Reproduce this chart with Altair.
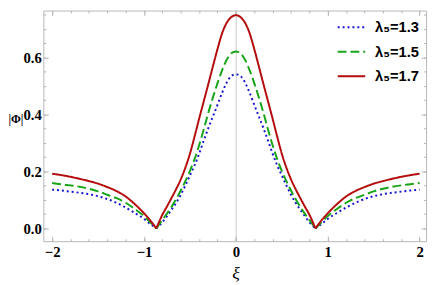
import altair as alt
import pandas as pd

# ---- data (curves are symmetric in xi) ----
xi_half = [0.0, 0.05, 0.1, 0.15, 0.2, 0.25, 0.3, 0.35, 0.4, 0.45, 0.5, 0.55, 0.6,
           0.65, 0.7, 0.75, 0.8, 0.866, 0.95, 1.0, 1.1, 1.2, 1.3, 1.4, 1.5, 1.6,
           1.7, 1.8, 1.9, 2.0]
phi_13 = [0.541, 0.535, 0.512, 0.476, 0.434, 0.393, 0.352, 0.308, 0.262, 0.221,
          0.186, 0.151, 0.118, 0.090, 0.066, 0.043, 0.022, 0.0, 0.020, 0.033,
          0.054, 0.073, 0.090, 0.103, 0.113, 0.120, 0.125, 0.129, 0.133, 0.136]
phi_15 = [0.621, 0.615, 0.592, 0.555, 0.510, 0.460, 0.406, 0.347, 0.292, 0.243,
          0.202, 0.166, 0.133, 0.103, 0.076, 0.052, 0.030, 0.0, 0.027, 0.043,
          0.068, 0.090, 0.106, 0.118, 0.130, 0.139, 0.146, 0.151, 0.155, 0.159]
phi_17 = [0.749, 0.742, 0.722, 0.685, 0.630, 0.569, 0.507, 0.446, 0.385, 0.322,
          0.262, 0.213, 0.172, 0.138, 0.107, 0.077, 0.048, 0.0, 0.035, 0.053,
          0.085, 0.112, 0.131, 0.145, 0.157, 0.166, 0.174, 0.181, 0.187, 0.192]
kink = 0.866
series_labels = ["λ₅=1.3", "λ₅=1.5", "λ₅=1.7"]
series_colors = ["#1414d0", "#18a418", "#b40c0c"]
series_dashes = [[2, 3], [9, 4], [1, 0]]

x_major = [-2, -1, 0, 1, 2]
x_minor = [-2.0, -1.8, -1.6, -1.4, -1.2, -1.0, -0.8, -0.6, -0.4, -0.2, 0.0,
           0.2, 0.4, 0.6, 0.8, 1.0, 1.2, 1.4, 1.6, 1.8, 2.0]
y_major = [0.0, 0.2, 0.4, 0.6]
y_minor = [0.0, 0.05, 0.1, 0.15, 0.2, 0.25, 0.3, 0.35, 0.4, 0.45, 0.5, 0.55,
           0.6, 0.65, 0.7, 0.75]

rows = []
for label, vals in zip(series_labels, [phi_13, phi_15, phi_17]):
    for x, v in zip(xi_half, vals):
        for sx in ([1] if x == 0 else [1, -1]):
            xx = sx * x
            segs = []
            if x <= kink + 1e-9:
                segs.append("mid")
            if x >= kink - 1e-9:
                segs.append("right" if sx > 0 else "left")
            for s in segs:
                rows.append({"xi": xx, "phi": v, "series": label, "seg": s})
df = pd.DataFrame(rows)

xscale = alt.Scale(domain=[-2.096, 2.07], nice=False, zero=False)
yscale = alt.Scale(domain=[-0.045, 0.765], nice=False, zero=False)
TICK = "#b4b4b4"

legend = alt.Legend(
    orient="none", legendX=299, legendY=2, title=None,
    symbolType="stroke", symbolSize=784, symbolStrokeWidth=2,
    labelFont="Liberation Sans", labelFontWeight="bold", labelFontSize=15,
    labelColor="black", labelOffset=9, rowPadding=2, padding=0,
)

lines = alt.Chart(df).mark_line(strokeWidth=2, interpolate="monotone").encode(
    x=alt.X("xi:Q", scale=xscale, axis=alt.Axis(
        orient="bottom", values=x_major, offset=-5, tickSize=5, tickColor=TICK,
        domain=False, grid=False, format="d", labelPadding=4,
        title="ξ", titleFont="Liberation Serif", titleFontStyle="italic",
        titleFontWeight="normal", titleFontSize=18, titleX=196, titleY=43,
        titleAlign="center", titleBaseline="alphabetic")),
    y=alt.Y("phi:Q", scale=yscale, axis=alt.Axis(
        orient="left", values=y_major, offset=-5, tickSize=5, tickColor=TICK,
        domain=False, grid=False, format=".1f", labelPadding=2,
        title="|Φ|", titleFont="Liberation Serif", titleFontWeight="bold",
        titleFontSize=12, titleAngle=0, titleX=-33.5, titleY=110,
        titleAlign="center", titleBaseline="middle")),
    color=alt.Color("series:N", scale=alt.Scale(domain=series_labels, range=series_colors),
                    legend=legend),
    strokeDash=alt.StrokeDash("series:N", scale=alt.Scale(domain=series_labels, range=series_dashes),
                              legend=legend),
    detail="seg:N",
    order="xi:Q",
)


def ghost(xaxis, yaxis):
    return alt.Chart(df).mark_point(opacity=0).encode(
        x=alt.X("xi:Q", scale=xscale, axis=xaxis),
        y=alt.Y("phi:Q", scale=yscale, axis=yaxis),
    )


zero_line = ghost(
    alt.Axis(orient="bottom", values=[0], grid=True, gridColor="#c8c8c8", gridWidth=1,
             ticks=False, labels=False, domain=False, title=None),
    None,
)
minor_bl = ghost(
    alt.Axis(orient="bottom", values=x_minor, offset=-2.5, tickSize=2.5, tickColor=TICK,
             labels=False, domain=False, grid=False, title=None),
    alt.Axis(orient="left", values=y_minor, offset=-2.5, tickSize=2.5, tickColor=TICK,
             labels=False, domain=False, grid=False, title=None),
)
major_tr = ghost(
    alt.Axis(orient="top", values=x_major, offset=-5, tickSize=5, tickColor=TICK,
             labels=False, domain=False, grid=False, title=None),
    alt.Axis(orient="right", values=y_major, offset=-5, tickSize=5, tickColor=TICK,
             labels=False, domain=False, grid=False, title=None),
)
minor_tr = ghost(
    alt.Axis(orient="top", values=x_minor, offset=-2.5, tickSize=2.5, tickColor=TICK,
             labels=False, domain=False, grid=False, title=None),
    alt.Axis(orient="right", values=y_minor, offset=-2.5, tickSize=2.5, tickColor=TICK,
             labels=False, domain=False, grid=False, title=None),
)

chart = alt.layer(zero_line, minor_bl, major_tr, minor_tr, lines).resolve_axis(
    x="independent", y="independent"
).properties(
    width=390, height=235,
    autosize=alt.AutoSizeParams(type="none"),
    padding={"left": 36, "top": 0, "right": 2, "bottom": 40},
    background="white",
).configure_view(
    stroke="#b8b8b8", strokeWidth=1
).configure_axis(
    labelFont="Liberation Serif", labelFontWeight="bold", labelFontSize=15,
    labelColor="black", labelFlush=False, labelOverlap=False, labelBound=False,
)

chart.save("out.html", embed_options={"renderer": "svg", "actions": False})
